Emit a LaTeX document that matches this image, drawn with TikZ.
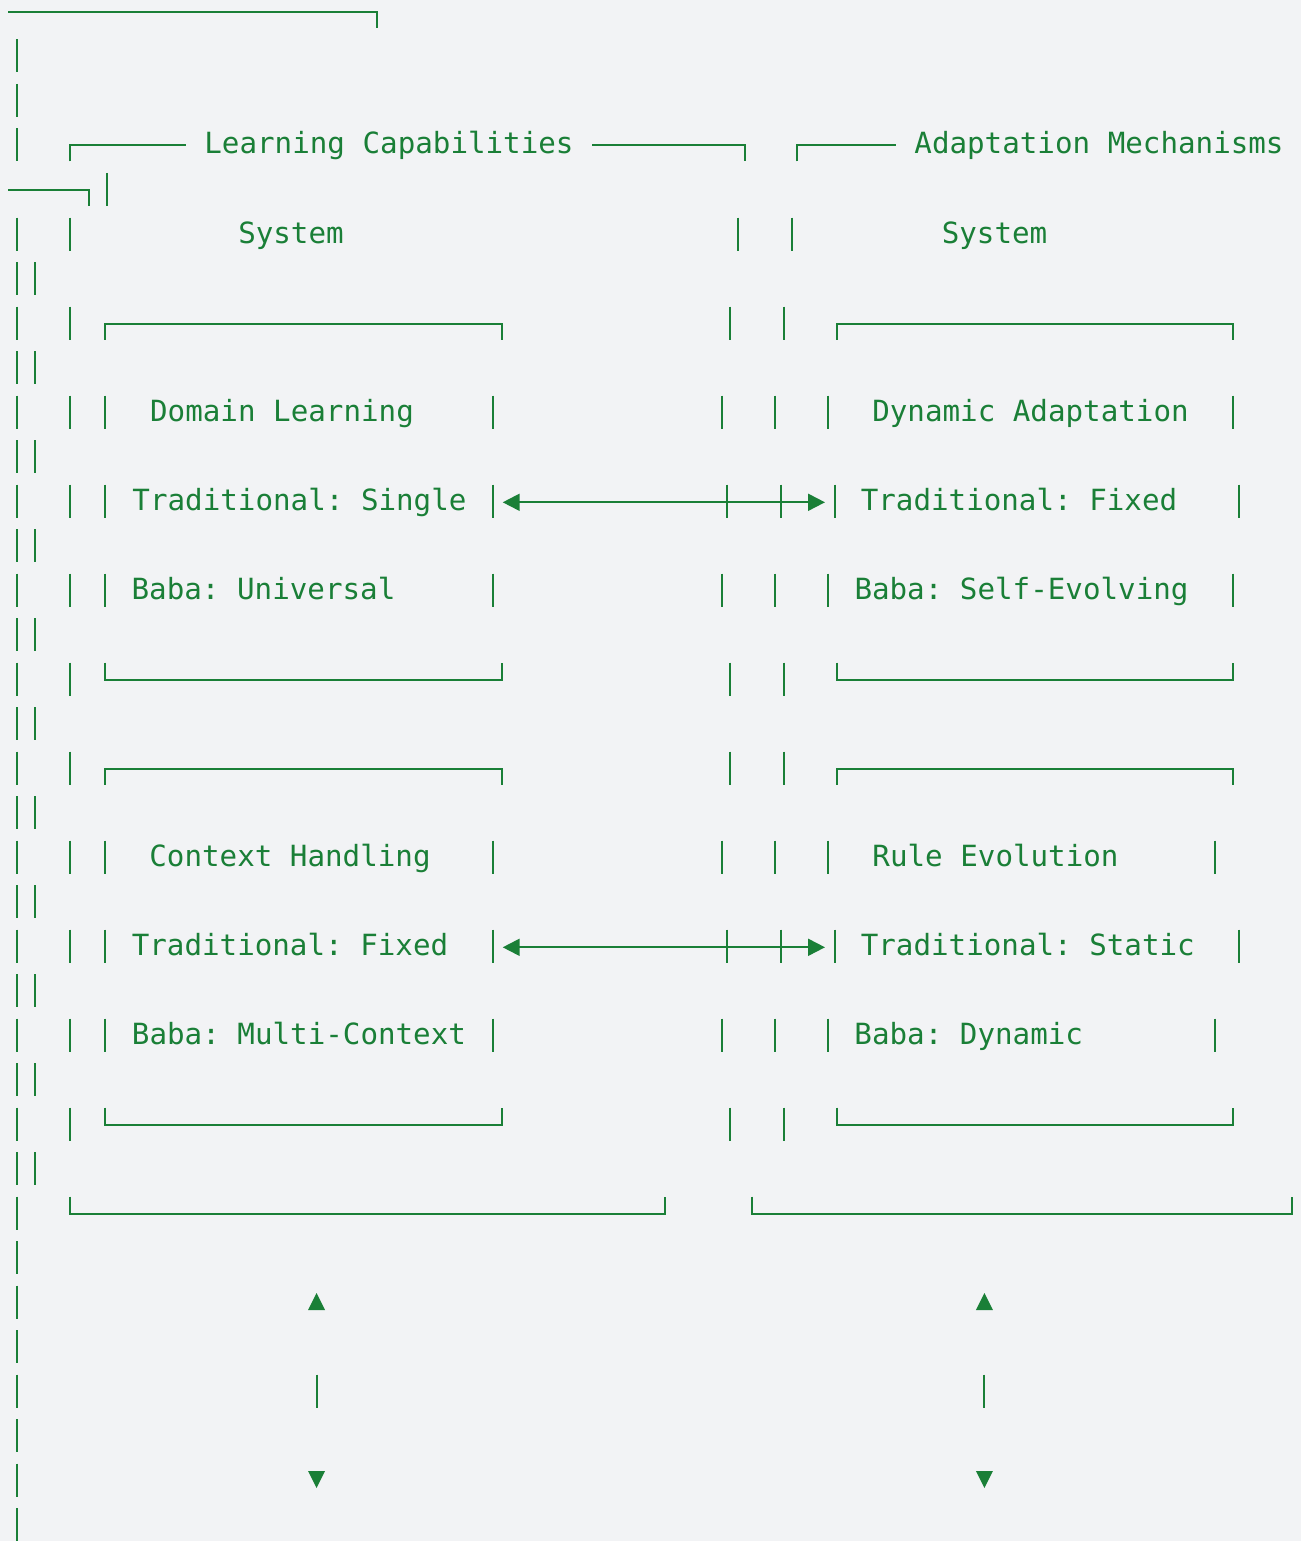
\documentclass[tikz,border=0pt]{standalone}
\usepackage{fontspec}
\setmonofont{DejaVu Sans Mono}
\usetikzlibrary{arrows.meta}

\definecolor{termgreen}{RGB}{26,127,55}
\definecolor{paper}{RGB}{242,243,245}

% centre line of text row #1 (rows are 44.5 units apart)
\newcommand{\ry}[1]{44.5*#1-33.5}

\begin{document}
\begin{tikzpicture}
  [x=1pt, y=-1pt,
   glyph/.style={draw=termgreen, line width=2pt},
   label/.style={font=\ttfamily\fontsize{29.2}{30}\selectfont, text=termgreen, anchor=base, inner sep=0pt},
   link/.style={glyph, arrows={Triangle[length=17pt,width=17pt]-Triangle[length=17pt,width=17pt]}},
   tip/.style={fill=termgreen}]

  \fill[paper] (0,0) rectangle (1301,1541);
  \useasboundingbox (0,0) rectangle (1301,1541);

  % outer frame pieces
  \draw[glyph] (8,12) -- (377,12) -- (377,28);
  \draw[glyph] (8,{\ry{5}+1}) -- (89,{\ry{5}+1}) -- (89,{\ry{5}+17});
  \draw[glyph] (107,{\ry{5}-16}) -- (107,{\ry{5}+17});

  % vertical bars, column by column
  \foreach \row in {2,3,4,6,7,...,35}
    \draw[glyph] (16.5,{\ry{\row}-16}) -- (16.5,{\ry{\row}+17});
  \foreach \row in {7,9,...,27}
    \draw[glyph] (34.7,{\ry{\row}-16}) -- (34.7,{\ry{\row}+17});
  \foreach \row in {6,8,...,26}
    \draw[glyph] (69.7,{\ry{\row}-16}) -- (69.7,{\ry{\row}+17});
  \foreach \row in {10,12,14,20,22,24}
    \draw[glyph] (105,{\ry{\row}-16}) -- (105,{\ry{\row}+17})
                 (492.7,{\ry{\row}-16}) -- (492.7,{\ry{\row}+17});
  \foreach \x in {738,792}
    \draw[glyph] (\x,{\ry{6}-16}) -- (\x,{\ry{6}+17});
  \foreach \row in {8,16,18,26}
    \foreach \x in {730,784}
      \draw[glyph] (\x,{\ry{\row}-16}) -- (\x,{\ry{\row}+17});
  \foreach \row in {10,14,20,24}
    \foreach \x in {721.7,775,828.3}
      \draw[glyph] (\x,{\ry{\row}-16}) -- (\x,{\ry{\row}+17});
  \foreach \row in {12,22}
    \foreach \x in {726.7,780.7,834.7,1239}
      \draw[glyph] (\x,{\ry{\row}-16}) -- (\x,{\ry{\row}+17});
  \foreach \row/\x in {10/1233,14/1233,20/1215,24/1215}
    \draw[glyph] (\x,{\ry{\row}-16}) -- (\x,{\ry{\row}+17});

  % group headers and bottoms
  \draw[glyph] (69.7,{\ry{4}+17}) -- (69.7,{\ry{4}+1}) -- (186,{\ry{4}+1});
  \draw[glyph] (592,{\ry{4}+1}) -- (745,{\ry{4}+1}) -- (745,{\ry{4}+17});
  \draw[glyph] (797,{\ry{4}+17}) -- (797,{\ry{4}+1}) -- (896,{\ry{4}+1});
  \draw[glyph] (70,{\ry{28}-16}) -- (70,{\ry{28}+1}) -- (664.5,{\ry{28}+1}) -- (664.5,{\ry{28}-16});
  \draw[glyph] (752,{\ry{28}-16}) -- (752,{\ry{28}+1}) -- (1292,{\ry{28}+1}) -- (1292,{\ry{28}-16});

  % inner boxes: top row / bottom row
  \foreach \top/\bot in {8/16,18/26}
    \foreach \xa/\xb in {105/502,837/1233} {
      \draw[glyph] (\xa,{\ry{\top}+17}) -- (\xa,{\ry{\top}+1}) -- (\xb,{\ry{\top}+1}) -- (\xb,{\ry{\top}+17});
      \draw[glyph] (\xa,{\ry{\bot}-16}) -- (\xa,{\ry{\bot}+1.5}) -- (\xb,{\ry{\bot}+1.5}) -- (\xb,{\ry{\bot}-16});
    }

  \node[label] (lcap) at (389,{\ry{4}+9.5}) {Learning Capabilities};
  \node[label] (amech) at (1099,{\ry{4}+9.5}) {Adaptation Mechanisms};
  \node[label] (lsys) at (291,{\ry{6}+9.5}) {System};
  \node[label] (asys) at (994.5,{\ry{6}+9.5}) {System};

  \node[label] (domain) at (282,{\ry{10}+9.5}) {Domain Learning};
  \node[label] (single) at (299.5,{\ry{12}+9.5}) {Traditional: Single};
  \node[label] (univ) at (263.5,{\ry{14}+9.5}) {Baba: Universal};
  \node[label] (dynad) at (1030.5,{\ry{10}+9.5}) {Dynamic Adaptation};
  \node[label] (fixedr) at (1019,{\ry{12}+9.5}) {Traditional: Fixed};
  \node[label] (selfev) at (1021.5,{\ry{14}+9.5}) {Baba: Self-Evolving};

  \node[label] (context) at (290,{\ry{20}+9.5}) {Context Handling};
  \node[label] (fixedl) at (290,{\ry{22}+9.5}) {Traditional: Fixed};
  \node[label] (multi) at (299,{\ry{24}+9.5}) {Baba: Multi-Context};
  \node[label] (rule) at (995.5,{\ry{20}+9.5}) {Rule Evolution};
  \node[label] (static) at (1027.8,{\ry{22}+9.5}) {Traditional: Static};
  \node[label] (dynamic) at (968.75,{\ry{24}+9.5}) {Baba: Dynamic};

  % two-way links between the boxes
  \coordinate (singleEnd) at (502.7,{\ry{12}+1.8});
  \coordinate (fixedEnd) at (825,{\ry{12}+1.8});
  \coordinate (ctxEnd) at (502.7,{\ry{22}+1.8});
  \coordinate (staticEnd) at (825,{\ry{22}+1.8});
  \draw[link] (singleEnd) -- (fixedEnd);
  \draw[link] (ctxEnd) -- (staticEnd);

  % up/down markers under each group
  \foreach \x in {316.6,984.4} {
    \fill[tip] (\x-8.5,{\ry{30}+8.5}) -- (\x+8.5,{\ry{30}+8.5}) -- (\x,{\ry{30}-8.5}) -- cycle;
    \draw[glyph] (\x,{\ry{32}-16}) -- (\x,{\ry{32}+17});
    \fill[tip] (\x-8.5,{\ry{34}-8.5}) -- (\x+8.5,{\ry{34}-8.5}) -- (\x,{\ry{34}+8.5}) -- cycle;
  }
\end{tikzpicture}
\end{document}
